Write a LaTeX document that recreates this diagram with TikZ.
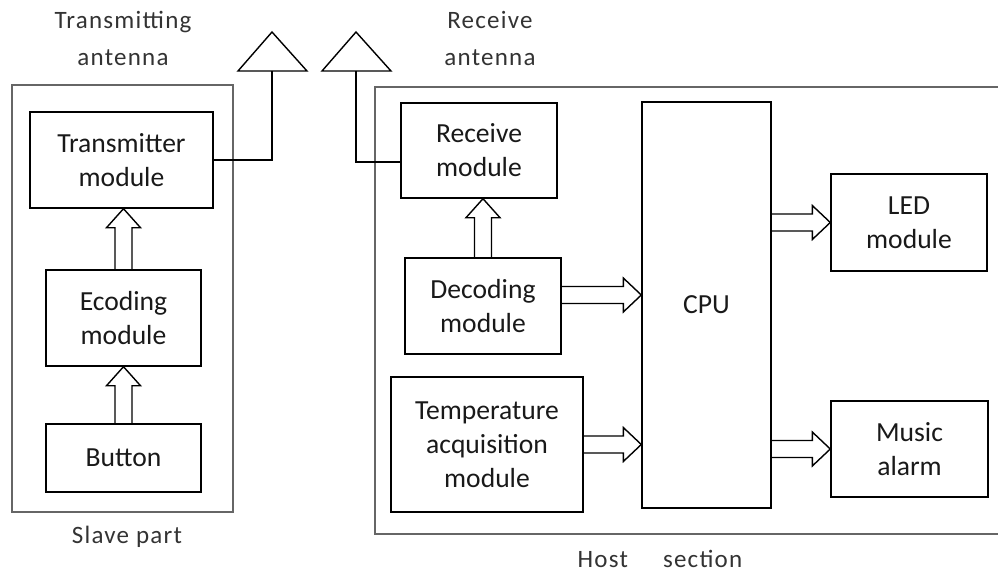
\documentclass[tikz,border=0pt]{standalone}
\usepackage{fontspec}
\setmainfont{Carlito}
\newfontfamily\spacedfont[LetterSpace=5]{Carlito}
\usetikzlibrary{calc}

% hollow block arrows (y runs downwards in the picture)
\newcommand{\fatup}[2]{%
  \draw[fat] ($(#1.north)+(-8.5,0)$) -- ($(#1.north |- #2.south)+(-8.5,19)$)
    -- ($(#1.north |- #2.south)+(-17,19)$) -- (#1.north |- #2.south)
    -- ($(#1.north |- #2.south)+(17,19)$) -- ($(#1.north |- #2.south)+(8.5,19)$)
    -- ($(#1.north)+(8.5,0)$);}
\newcommand{\fatright}[2]{%
  \draw[fat] ($(#1)+(0,-8.5)$) -- ($(#2.west |- #1)+(-18,-8.5)$)
    -- ($(#2.west |- #1)+(-18,-17)$) -- (#2.west |- #1)
    -- ($(#2.west |- #1)+(-18,17)$) -- ($(#2.west |- #1)+(-18,8.5)$)
    -- ($(#1)+(0,8.5)$);}

\begin{document}
\begin{tikzpicture}[
  x=0.5pt, y=-0.5pt,
  box/.style={draw, line width=0.7pt, align=center, inner sep=0pt, text=black!90,
    font=\fontsize{13.8pt}{17pt}\selectfont},
  lbl/.style={align=center, inner sep=0pt, text=black!80,
    font=\spacedfont\fontsize{12.5pt}{18.5pt}\selectfont},
  frame/.style={draw=black!60, line width=0.9pt},
  fat/.style={line width=0.7pt, line join=miter},
  wire/.style={line width=0.7pt}
]
  \useasboundingbox (0,0) rectangle (998,574);

  % slave part
  \draw[frame] (12,85) rectangle (233,512);
  \node[box, minimum width=91.5pt, minimum height=48pt] (tx) at (121.5,160) {Transmitter\\module};
  \node[box, minimum width=77.5pt, minimum height=48pt] (enc) at (123.5,318) {Ecoding\\module};
  \node[box, minimum width=77.5pt, minimum height=34pt] (btn) at (123.5,458) {Button};
  \node[lbl] (slavelbl) at (127,537) {Slave part};

  \fatup{enc}{tx}
  \fatup{btn}{enc}

  % antennas
  \coordinate (txant) at (272,71);
  \coordinate (rxant) at (356,71);
  \draw[wire] (txant) ++(-34,0) -- ++(34,-39) -- ++(35,39) -- cycle;
  \draw[wire] (rxant) ++(-34,0) -- ++(34,-39) -- ++(35,39) -- cycle;
  \node[lbl] (txantlbl) at (123,38) {Transmitting\\antenna};
  \node[lbl] (rxantlbl) at (490,38) {Receive\\antenna};

  % host section
  \draw[frame] (998,87) -- (375,87) -- (375,534) -- (998,534);
  \node[box, minimum width=78pt, minimum height=47.5pt] (rx) at (479,150.5) {Receive\\module};
  \node[box, minimum width=78pt, minimum height=48pt] (dec) at (483,306) {Decoding\\module};
  \node[box, minimum width=96pt, minimum height=67.5pt] (temp) at (487,444.5) {Temperature\\acquisition\\module};
  \node[box, minimum width=64.5pt, minimum height=203pt] (cpu) at (706.5,305) {CPU};
  \node[box, minimum width=78pt, minimum height=48.5pt] (led) at (909,222.5) {LED\\module};
  \node[box, minimum width=78.5pt, minimum height=48pt] (mus) at (909.5,449) {Music\\alarm};
  \node[lbl] (hostlbl) at (660,559) {Host\hspace{1.4em}section};

  \draw[wire] (tx.east) -| (txant);
  \draw[wire] (rxant) |- ([yshift=-5.75pt]rx.west);

  \fatup{dec}{rx}
  \coordinate (decout) at ($(dec.east)+(0,-11)$);
  \coordinate (cpuled) at (cpu.east |- led.west);
  \coordinate (cpumus) at (cpu.east |- mus.west);
  \fatright{decout}{cpu}
  \fatright{temp.east}{cpu}
  \fatright{cpuled}{led}
  \fatright{cpumus}{mus}
\end{tikzpicture}
\end{document}
